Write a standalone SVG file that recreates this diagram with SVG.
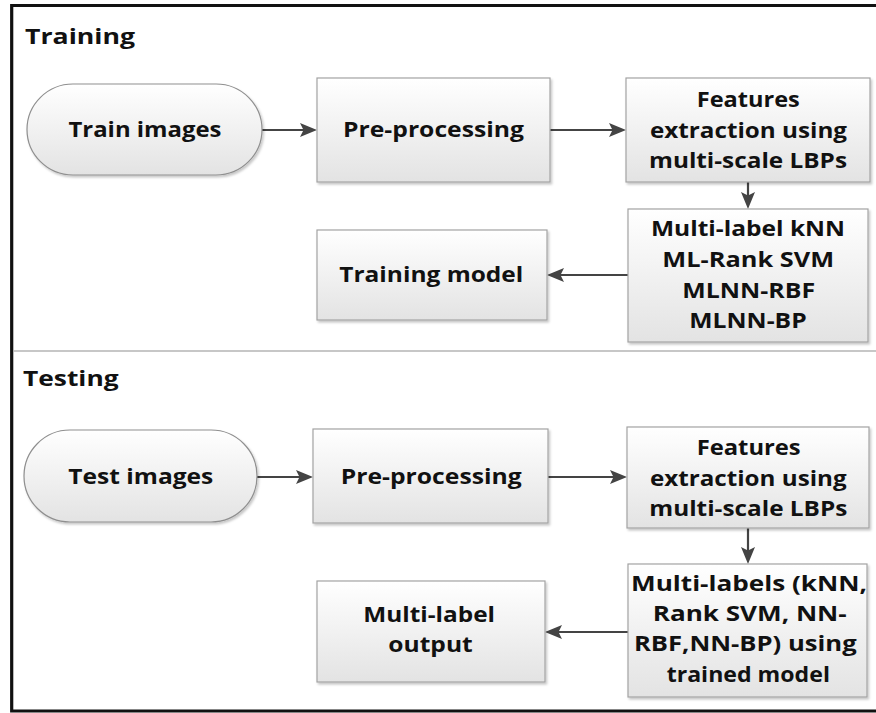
<svg xmlns="http://www.w3.org/2000/svg" width="876" height="713" viewBox="0 0 876 713">
  <defs>
    <style>
      .box { fill: url(#boxFill); stroke: #a3a3a3; stroke-width: 1.2; filter: url(#shadow); }
      .pill { fill: url(#boxFill); stroke: #8f8f8f; stroke-width: 1.2; filter: url(#shadow); }
      .lbl { font-family: "Open Sans", "Noto Sans", "Liberation Sans", sans-serif; font-weight: bold; font-size: 21.5px; fill: #111111; text-anchor: middle; }
      .title { font-family: "Open Sans", "Noto Sans", "Liberation Sans", sans-serif; font-weight: bold; font-size: 22px; fill: #111111; }
      .frame { fill: none; stroke: #111111; stroke-width: 3.2; }
      .divider { stroke: #b5b5b5; stroke-width: 1.5; }
      .conn { fill: none; stroke: #444444; stroke-width: 2.2; marker-end: url(#arrow); }
    </style>
    <linearGradient id="boxFill" x1="0" y1="0" x2="0" y2="1">
      <stop offset="0" stop-color="#ffffff"/>
      <stop offset="1" stop-color="#e3e3e3"/>
    </linearGradient>
    <filter id="shadow" x="-5%" y="-5%" width="115%" height="120%">
      <feDropShadow dx="1.5" dy="2" stdDeviation="1.2" flood-color="#000000" flood-opacity="0.22"/>
    </filter>
    <marker id="arrow" viewBox="0 0 17 15" refX="8" refY="7.5" markerWidth="17" markerHeight="15" markerUnits="userSpaceOnUse" orient="auto">
      <path d="M0,0.5 L17,7.5 L0,14.5 L3.5,7.5 Z" fill="#444444"/>
    </marker>
  </defs>

  <!-- outer frame (open on the right) and section divider -->
  <g id="frame">
    <path class="frame" d="M876,5.5 H11.7 V711 H876"/>
    <line class="divider" x1="13" y1="351" x2="876" y2="351"/>
  </g>

  <g id="section-titles">
    <text class="title" x="25" y="44.3" textLength="110" lengthAdjust="spacingAndGlyphs">Training</text>
    <text class="title" x="23" y="385.7" textLength="95.6" lengthAdjust="spacingAndGlyphs">Testing</text>
  </g>

  <!-- connectors -->
  <g id="connectors">
    <line class="conn" x1="262" y1="130" x2="308" y2="130"/>
    <line class="conn" x1="550" y1="130" x2="617" y2="130"/>
    <line class="conn" x1="748" y1="182" x2="748" y2="200"/>
    <line class="conn" x1="628" y1="275" x2="556" y2="275"/>
    <line class="conn" x1="257" y1="477" x2="304" y2="477"/>
    <line class="conn" x1="548" y1="477" x2="618" y2="477"/>
    <line class="conn" x1="748" y1="528" x2="748" y2="555"/>
    <line class="conn" x1="628" y1="632" x2="554" y2="632"/>
  </g>

  <!-- training section -->
  <g id="train-images">
    <rect class="pill" x="27" y="84" width="235" height="91" rx="46" ry="45.5"/>
    <text class="lbl" x="145" y="137" textLength="153" lengthAdjust="spacingAndGlyphs">Train images</text>
  </g>
  <g id="train-preprocessing">
    <rect class="box" x="317" y="78" width="233" height="104"/>
    <text class="lbl" x="433.5" y="137" textLength="181" lengthAdjust="spacingAndGlyphs">Pre-processing</text>
  </g>
  <g id="train-features">
    <rect class="box" x="626" y="78" width="244" height="104"/>
    <text class="lbl" x="748.3" y="106.7" textLength="103" lengthAdjust="spacingAndGlyphs">Features</text>
    <text class="lbl" x="748.5" y="138.3" textLength="197" lengthAdjust="spacingAndGlyphs">extraction using</text>
    <text class="lbl" x="748" y="168.3" textLength="198" lengthAdjust="spacingAndGlyphs">multi-scale LBPs</text>
  </g>
  <g id="train-classifiers">
    <rect class="box" x="628" y="209" width="240" height="133"/>
    <text class="lbl" x="748" y="236" textLength="194" lengthAdjust="spacingAndGlyphs">Multi-label kNN</text>
    <text class="lbl" x="748.2" y="267.3" textLength="171.7" lengthAdjust="spacingAndGlyphs">ML-Rank SVM</text>
    <text class="lbl" x="748.7" y="298.3" textLength="132.7" lengthAdjust="spacingAndGlyphs">MLNN-RBF</text>
    <text class="lbl" x="748" y="328.3" textLength="117.3" lengthAdjust="spacingAndGlyphs">MLNN-BP</text>
  </g>
  <g id="training-model">
    <rect class="box" x="317" y="230" width="230" height="90"/>
    <text class="lbl" x="431.3" y="281.7" textLength="184" lengthAdjust="spacingAndGlyphs">Training model</text>
  </g>

  <!-- testing section -->
  <g id="test-images">
    <rect class="pill" x="24" y="430" width="233" height="92" rx="46" ry="46"/>
    <text class="lbl" x="140.8" y="484" textLength="145" lengthAdjust="spacingAndGlyphs">Test images</text>
  </g>
  <g id="test-preprocessing">
    <rect class="box" x="313" y="429" width="235" height="94"/>
    <text class="lbl" x="431.2" y="484" textLength="181" lengthAdjust="spacingAndGlyphs">Pre-processing</text>
  </g>
  <g id="test-features">
    <rect class="box" x="627" y="427" width="242" height="101"/>
    <text class="lbl" x="748.7" y="455" textLength="104" lengthAdjust="spacingAndGlyphs">Features</text>
    <text class="lbl" x="748.3" y="485.7" textLength="196.7" lengthAdjust="spacingAndGlyphs">extraction using</text>
    <text class="lbl" x="748.3" y="515.7" textLength="198" lengthAdjust="spacingAndGlyphs">multi-scale LBPs</text>
  </g>
  <g id="test-classifiers">
    <rect class="box" x="628" y="564" width="239" height="133"/>
    <text class="lbl" x="749" y="591" textLength="236" lengthAdjust="spacingAndGlyphs">Multi-labels (kNN,</text>
    <text class="lbl" x="749.7" y="621" textLength="194" lengthAdjust="spacingAndGlyphs">Rank SVM, NN-</text>
    <text class="lbl" x="745.3" y="651" textLength="222.7" lengthAdjust="spacingAndGlyphs">RBF,NN-BP) using</text>
    <text class="lbl" x="748.3" y="682" textLength="163.3" lengthAdjust="spacingAndGlyphs">trained model</text>
  </g>
  <g id="multi-label-output">
    <rect class="box" x="317" y="581" width="228" height="101"/>
    <text class="lbl" x="429.2" y="621.7" textLength="131.7" lengthAdjust="spacingAndGlyphs">Multi-label</text>
    <text class="lbl" x="430.5" y="651.7" textLength="84.4" lengthAdjust="spacingAndGlyphs">output</text>
  </g>
</svg>
